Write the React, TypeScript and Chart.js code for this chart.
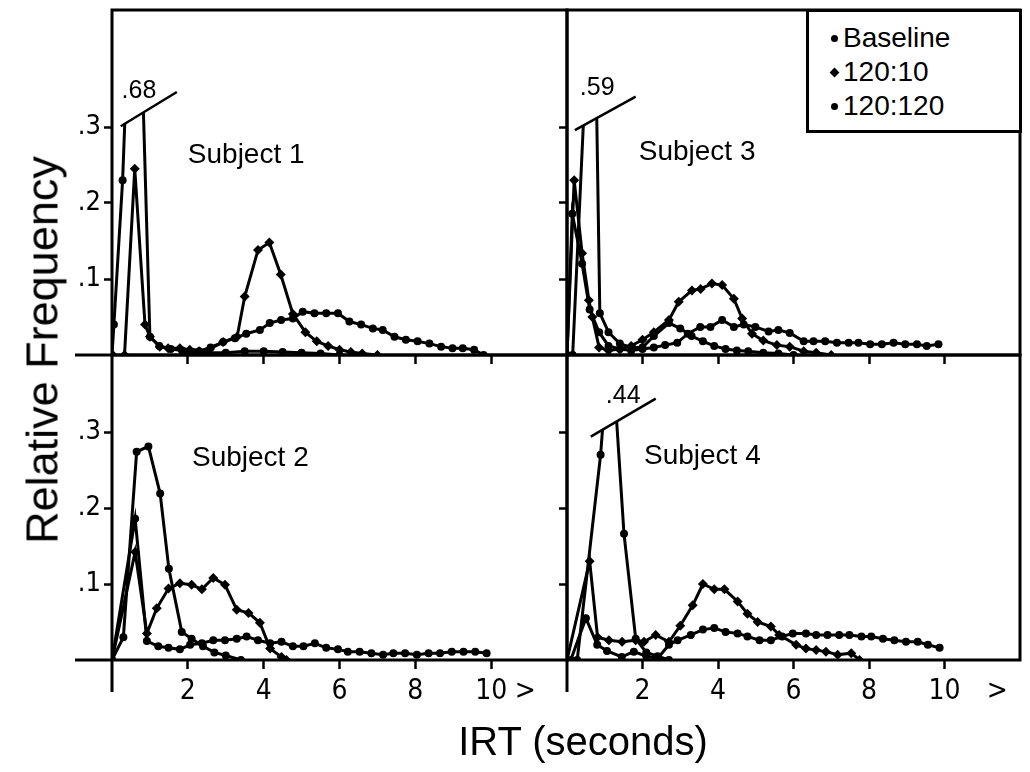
import React, { useEffect, useRef } from 'react';
import { Chart, registerables } from 'chart.js';

Chart.register(...registerables);

type Pt = [number, number];

// ---------- labels ----------
const SERIES_NAMES = ['Baseline', '120:10', '120:120'];
const SUBJECT_LABELS = ['Subject 1', 'Subject 2', 'Subject 3', 'Subject 4'];
const X_TICKS = [2, 4, 6, 8, 10];
const Y_TICKS = [0.1, 0.2, 0.3];
const Y_TICK_LABELS = ['.1', '.2', '.3'];
const BREAK_LABELS = ['.68', '', '.59', '.44'];
const X_TITLE = 'IRT (seconds)';
const Y_TITLE = 'Relative Frequency';

// ---------- data: [IRT seconds, relative frequency] ----------
// Subject 1
const s1Baseline: Pt[] = [[0, 0], [0.05, 0.04], [0.28, 0.23], [0.62, 0.68], [1.0, 0.024], [1.25, 0.012], [1.55, 0.008], [1.85, 0.006], [2.15, 0.004], [2.5, 0.003], [3.0, 0.003], [3.5, 0.005], [4.0, 0.005], [4.5, 0.004], [5.0, 0.003], [5.5, 0.002], [6.0, 0]];
const s1R10: Pt[] = [[0.33, 0], [0.6, 0.245], [0.87, 0.04], [1.0, 0.024], [1.26, 0.011], [1.48, 0.009], [1.79, 0.009], [2.05, 0.007], [2.3, 0.005], [2.58, 0.008], [2.93, 0.017], [3.3, 0.024], [3.5, 0.077], [3.85, 0.138], [4.15, 0.148], [4.45, 0.106], [4.77, 0.054], [5.1, 0.03], [5.4, 0.018], [5.7, 0.012], [6.0, 0.007], [6.3, 0.004], [6.6, 0.002], [7.0, 0]];
const s1R120: Pt[] = [[2.0, 0], [2.3, 0.005], [2.6, 0.01], [2.93, 0.017], [3.24, 0.022], [3.54, 0.028], [3.9, 0.033], [4.16, 0.042], [4.46, 0.046], [4.77, 0.048], [5.03, 0.057], [5.34, 0.055], [5.65, 0.055], [5.96, 0.055], [6.26, 0.044], [6.57, 0.04], [6.88, 0.035], [7.14, 0.033], [7.45, 0.024], [7.75, 0.02], [8.06, 0.018], [8.37, 0.015], [8.68, 0.011], [8.98, 0.009], [9.25, 0.009], [9.55, 0.007], [9.8, 0]];

// Subject 2
const s2Baseline: Pt[] = [[0, 0], [0.3, 0.03], [0.65, 0.274], [0.96, 0.281], [1.27, 0.219], [1.5, 0.12], [1.84, 0.037], [2.1, 0.028], [2.4, 0.018], [2.7, 0.01], [3.0, 0.006], [3.4, 0]];
const s2R10: Pt[] = [[0, 0], [0.61, 0.142], [0.92, 0.035], [1.18, 0.068], [1.49, 0.094], [1.79, 0.101], [2.1, 0.099], [2.37, 0.093], [2.67, 0.108], [2.98, 0.099], [3.29, 0.066], [3.6, 0.062], [3.9, 0.049], [4.17, 0.015], [4.47, 0.004], [4.6, 0]];
const s2R120: Pt[] = [[0, 0], [0.61, 0.186], [0.92, 0.025], [1.22, 0.018], [1.49, 0.016], [1.79, 0.014], [2.06, 0.02], [2.37, 0.022], [2.67, 0.026], [2.98, 0.026], [3.29, 0.028], [3.55, 0.031], [3.85, 0.026], [4.17, 0.022], [4.47, 0.024], [4.77, 0.018], [5.05, 0.018], [5.35, 0.022], [5.65, 0.016], [5.96, 0.014], [6.22, 0.011], [6.53, 0.011], [6.84, 0.009], [7.15, 0.007], [7.42, 0.009], [7.73, 0.009], [8.04, 0.007], [8.35, 0.009], [8.65, 0.009], [8.96, 0.011], [9.27, 0.011], [9.58, 0.011], [9.88, 0.009]];

// Subject 3
const s3Baseline: Pt[] = [[0.15, 0], [0.7, 0.59], [0.87, 0.055], [1.1, 0.03], [1.4, 0.015], [1.7, 0.01], [2.0, 0.01], [2.3, 0.025], [2.7, 0.042], [3.0, 0.035], [3.3, 0.025], [3.6, 0.018], [3.9, 0.012], [4.2, 0.008], [4.5, 0.006], [4.8, 0.005], [5.2, 0.003], [5.6, 0.002], [6.0, 0]];
const s3R10: Pt[] = [[0, 0], [0.19, 0.23], [0.4, 0.134], [0.58, 0.072], [0.67, 0.05], [0.85, 0.01], [1.1, 0.006], [1.4, 0.008], [1.7, 0.012], [2.0, 0.02], [2.3, 0.03], [2.7, 0.046], [2.96, 0.07], [3.31, 0.085], [3.54, 0.087], [3.84, 0.094], [4.11, 0.092], [4.42, 0.074], [4.64, 0.048], [4.9, 0.028], [5.2, 0.019], [5.56, 0.013], [5.9, 0.011], [6.27, 0.005], [6.6, 0.003], [7.0, 0]];
const s3R120: Pt[] = [[0, 0], [0.14, 0.186], [0.4, 0.12], [0.6, 0.06], [0.85, 0.03], [1.1, 0.012], [1.4, 0.008], [1.7, 0.006], [2.0, 0.008], [2.3, 0.01], [2.6, 0.013], [2.92, 0.016], [3.2, 0.028], [3.53, 0.037], [3.8, 0.037], [4.11, 0.046], [4.42, 0.037], [4.68, 0.04], [4.99, 0.037], [5.34, 0.031], [5.6, 0.033], [5.9, 0.029], [6.27, 0.018], [6.53, 0.018], [6.84, 0.018], [7.15, 0.016], [7.46, 0.016], [7.72, 0.016], [8.03, 0.014], [8.34, 0.014], [8.65, 0.016], [8.96, 0.014], [9.27, 0.014], [9.53, 0.012], [9.84, 0.014]];

// Subject 4
const s4Baseline: Pt[] = [[0.27, 0], [0.89, 0.27], [1.15, 0.44], [1.51, 0.166], [1.82, 0.028], [2.1, 0.01], [2.4, 0.005], [2.7, 0]];
const s4R10: Pt[] = [[0, 0], [0.6, 0.13], [0.81, 0.03], [1.11, 0.026], [1.46, 0.024], [1.82, 0.026], [2.04, 0.024], [2.35, 0.033], [2.7, 0.024], [3.0, 0.045], [3.33, 0.072], [3.6, 0.1], [3.9, 0.093], [4.17, 0.093], [4.52, 0.077], [4.78, 0.061], [5.05, 0.05], [5.4, 0.044], [5.62, 0.033], [6.07, 0.02], [6.33, 0.015], [6.6, 0.013], [6.86, 0.011], [7.17, 0.007], [7.53, 0.009], [7.75, 0]];
const s4R120: Pt[] = [[0.1, 0], [0.5, 0.055], [0.8, 0.02], [1.06, 0.012], [1.45, 0.004], [1.77, 0.011], [2.1, 0.005], [2.4, 0.002], [2.7, 0.02], [2.93, 0.026], [3.28, 0.033], [3.6, 0.04], [3.9, 0.042], [4.2, 0.037], [4.52, 0.035], [4.78, 0.031], [5.1, 0.026], [5.4, 0.026], [5.7, 0.031], [5.98, 0.035], [6.33, 0.035], [6.6, 0.033], [6.9, 0.033], [7.21, 0.033], [7.48, 0.033], [7.8, 0.031], [8.06, 0.031], [8.37, 0.028], [8.67, 0.026], [8.98, 0.024], [9.29, 0.024], [9.56, 0.02], [9.87, 0.016]];

// ---------- layout ----------
const W = 1030;
const H = 772;
const FRAME = { left: 112, mid: 567, right: 1020, top: 10, midY: 355, bottom: 660 };
const YW = 56; // fixed y-axis width
const XH = 44; // fixed x-axis height
const FONT = '"Liberation Sans", Arial, sans-serif';
const NUM_FONT = '"Liberation Sans Narrow", "DejaVu Sans Condensed", "Liberation Sans", sans-serif';

type Panel = {
  series: Pt[][];
  subject: string;
  subjectPos: [number, number];
  area: { left: number; right: number; top: number; bottom: number };
  yMax: number;
  showX: boolean;
  showY: boolean;
  leftCol: boolean;
  gt: number;
  brk: null | { label: string; line: [number, number, number, number]; labelPos: [number, number] };
};

const PANELS: Panel[] = [
  {
    series: [s1Baseline, s1R10, s1R120], subject: SUBJECT_LABELS[0], subjectPos: [2.0, 0.263],
    area: { left: FRAME.left, right: FRAME.mid, top: FRAME.top, bottom: FRAME.midY },
    yMax: (FRAME.midY - FRAME.top) / 760, showX: false, showY: true, leftCol: true, gt: 10.9,
    brk: { label: BREAK_LABELS[0], line: [0.23, 0.301, 1.71, 0.346], labelPos: [0.71, 0.347] },
  },
  {
    series: [s2Baseline, s2R10, s2R120], subject: SUBJECT_LABELS[1], subjectPos: [2.11, 0.265],
    area: { left: FRAME.left, right: FRAME.mid, top: FRAME.midY, bottom: FRAME.bottom },
    yMax: (FRAME.bottom - FRAME.midY) / 760, showX: true, showY: true, leftCol: true, gt: 10.9,
    brk: null,
  },
  {
    series: [s3Baseline, s3R10, s3R120], subject: SUBJECT_LABELS[2], subjectPos: [1.9, 0.267],
    area: { left: FRAME.mid, right: FRAME.right, top: FRAME.top, bottom: FRAME.midY },
    yMax: (FRAME.midY - FRAME.top) / 760, showX: false, showY: false, leftCol: false, gt: 11.4,
    brk: { label: BREAK_LABELS[2], line: [0.21, 0.296, 1.82, 0.34], labelPos: [0.8, 0.351] },
  },
  {
    series: [s4Baseline, s4R10, s4R120], subject: SUBJECT_LABELS[3], subjectPos: [2.04, 0.268],
    area: { left: FRAME.mid, right: FRAME.right, top: FRAME.midY, bottom: FRAME.bottom },
    yMax: (FRAME.bottom - FRAME.midY) / 760, showX: true, showY: false, leftCol: false, gt: 11.4,
    brk: { label: BREAK_LABELS[3], line: [0.63, 0.294, 2.35, 0.344], labelPos: [1.49, 0.347] },
  },
];

const POINT_STYLES = ['circle', 'rectRot', 'circle'];
const POINT_RADII = [4, 5, 4];

function makeDecor(p: Panel) {
  return {
    id: 'panelDecor',
    beforeDatasetsDraw(chart: any) {
      const ctx = chart.ctx;
      const a = chart.chartArea;
      ctx.save();
      if (p.brk) {
        const xs = chart.scales.x;
        const ys = chart.scales.y;
        const [x1, y1, x2, y2] = p.brk.line;
        const px1 = xs.getPixelForValue(x1);
        const py1 = ys.getPixelForValue(y1);
        const px2 = xs.getPixelForValue(x2);
        const py2 = ys.getPixelForValue(y2);
        ctx.beginPath();
        ctx.moveTo(a.left - 20, a.bottom + 20);
        ctx.lineTo(a.left - 20, a.top - 40);
        ctx.lineTo(px1, a.top - 40);
        ctx.lineTo(px1, py1);
        ctx.lineTo(px2, py2);
        ctx.lineTo(px2, a.top - 40);
        ctx.lineTo(a.right + 20, a.top - 40);
        ctx.lineTo(a.right + 20, a.bottom + 20);
        ctx.closePath();
        ctx.clip();
      }
    },
    afterDatasetsDraw(chart: any) {
      const ctx = chart.ctx;
      ctx.restore();
      const a = chart.chartArea;
      const xs = chart.scales.x;
      const ys = chart.scales.y;
      ctx.save();
      ctx.strokeStyle = '#000';
      ctx.fillStyle = '#000';
      // break marker for off-scale peak
      if (p.brk) {
        const [x1, y1, x2, y2] = p.brk.line;
        ctx.lineWidth = 2.5;
        ctx.beginPath();
        ctx.moveTo(xs.getPixelForValue(x1), ys.getPixelForValue(y1));
        ctx.lineTo(xs.getPixelForValue(x2), ys.getPixelForValue(y2));
        ctx.stroke();
        ctx.font = '25px ' + FONT;
        ctx.textAlign = 'center';
        ctx.textBaseline = 'middle';
        ctx.fillText(p.brk.label, xs.getPixelForValue(p.brk.labelPos[0]), ys.getPixelForValue(p.brk.labelPos[1]));
      }
      // subject label
      ctx.font = '28px ' + FONT;
      ctx.textAlign = 'left';
      ctx.textBaseline = 'middle';
      ctx.fillText(p.subject, xs.getPixelForValue(p.subjectPos[0]), ys.getPixelForValue(p.subjectPos[1]));
      // frame
      ctx.lineWidth = 3;
      ctx.strokeRect(a.left, a.top, a.right - a.left, a.bottom - a.top);
      ctx.beginPath();
      if (p.leftCol) {
        ctx.moveTo(a.left - 37, a.bottom);
        ctx.lineTo(a.left, a.bottom);
      }
      if (p.showX) {
        ctx.moveTo(a.left, a.bottom);
        ctx.lineTo(a.left, a.bottom + 32);
      }
      ctx.stroke();
      ctx.restore();
    },
  };
}

function PanelChart({ p }: { p: Panel }) {
  const ref = useRef<HTMLCanvasElement | null>(null);
  useEffect(() => {
    if (!ref.current) return;
    const chart = new Chart(ref.current, {
      type: 'line',
      data: {
        datasets: p.series.map((s, i) => ({
          label: SERIES_NAMES[i],
          data: s.map(([x, y]) => ({ x, y })),
          borderColor: '#000',
          backgroundColor: '#000',
          borderWidth: 3,
          pointStyle: POINT_STYLES[i] as any,
          pointRadius: POINT_RADII[i],
          pointBorderWidth: 0,
          pointBackgroundColor: '#000',
          tension: 0,
          fill: false,
        })),
      },
      options: {
        responsive: false,
        animation: false,
        devicePixelRatio: 1,
        events: [],
        layout: {
          padding: {
            left: p.area.left - YW,
            right: W - p.area.right,
            top: p.area.top,
            bottom: H - p.area.bottom - XH,
          },
        },
        plugins: {
          legend: { display: false },
          tooltip: { enabled: false },
          title: { display: false },
        },
        scales: {
          x: {
            type: 'linear',
            min: 0,
            max: 12,
            afterBuildTicks: (s: any) => {
              s.ticks = [...X_TICKS, p.gt].map((v) => ({ value: v }));
            },
            afterFit: (s: any) => {
              s.height = XH;
              s.paddingLeft = 0;
              s.paddingRight = 0;
              s.paddingTop = 0;
              s.paddingBottom = 0;
            },
            border: { display: false },
            grid: {
              drawOnChartArea: false,
              drawTicks: true,
              tickLength: 9,
              tickWidth: 2.5,
              tickColor: (c: any) => (c.tick && c.tick.value === p.gt ? 'rgba(0,0,0,0)' : '#000'),
            },
            ticks: {
              display: p.showX,
              autoSkip: false,
              maxRotation: 0,
              color: '#000',
              padding: 6,
              font: { family: NUM_FONT, size: 28 },
              callback: (v: any) => (v === p.gt ? '>' : String(v)),
            },
          },
          y: {
            type: 'linear',
            min: 0,
            max: p.yMax,
            afterBuildTicks: (s: any) => {
              s.ticks = Y_TICKS.map((v) => ({ value: v }));
            },
            afterFit: (s: any) => {
              s.width = YW;
              s.paddingLeft = 0;
              s.paddingRight = 0;
              s.paddingTop = 0;
              s.paddingBottom = 0;
            },
            border: { display: false },
            grid: {
              drawOnChartArea: false,
              drawTicks: true,
              tickLength: 8,
              tickWidth: 2.5,
              tickColor: '#000',
            },
            ticks: {
              display: p.showY,
              autoSkip: false,
              color: '#000',
              padding: 3,
              font: { family: NUM_FONT, size: 27 },
              callback: (v: any) => {
                const k = Y_TICKS.indexOf(v);
                return k >= 0 ? Y_TICK_LABELS[k] : '';
              },
            },
          },
        },
      },
      plugins: [makeDecor(p)],
    } as any);
    return () => chart.destroy();
  }, [p]);
  return (
    <canvas
      ref={ref}
      width={W}
      height={H}
      style={{ position: 'absolute', left: 0, top: 0, width: W, height: H, pointerEvents: 'none' }}
    />
  );
}

const LEGEND_MARKERS = ['dot', 'diamond', 'dot'];

export default function App() {
  return (
    <div
      style={{
        position: 'fixed',
        left: 0,
        top: 0,
        width: W,
        height: H,
        background: '#fff',
        overflow: 'hidden',
        fontFamily: FONT,
        color: '#000',
      }}
    >
      {PANELS.map((p, i) => (
        <PanelChart key={i} p={p} />
      ))}
      <div
        style={{
          position: 'absolute',
          left: 806,
          top: FRAME.top - 1,
          width: FRAME.right - 806 + 2,
          height: 124,
          border: '3px solid #000',
          boxSizing: 'border-box',
          background: '#fff',
          paddingTop: 9,
        }}
      >
        {SERIES_NAMES.map((name, i) => (
          <div
            key={name}
            style={{ display: 'flex', alignItems: 'center', height: 34, paddingLeft: 22, fontSize: 28, whiteSpace: 'nowrap' }}
          >
            <span
              style={{
                display: 'inline-block',
                width: 7,
                height: 7,
                background: '#000',
                borderRadius: LEGEND_MARKERS[i] === 'dot' ? '50%' : 0,
                transform: LEGEND_MARKERS[i] === 'diamond' ? 'rotate(45deg)' : 'none',
                marginRight: 5,
              }}
            />
            <span>{name}</span>
          </div>
        ))}
      </div>
      <div
        style={{
          position: 'absolute',
          left: 42,
          top: 350,
          transform: 'translate(-50%, -50%) rotate(-90deg)',
          fontSize: 45,
          whiteSpace: 'nowrap',
          lineHeight: 1,
        }}
      >
        {Y_TITLE}
      </div>
      <div
        style={{
          position: 'absolute',
          left: 583,
          top: 741,
          transform: 'translate(-50%, -50%)',
          fontSize: 40,
          whiteSpace: 'nowrap',
          lineHeight: 1,
        }}
      >
        {X_TITLE}
      </div>
    </div>
  );
}
